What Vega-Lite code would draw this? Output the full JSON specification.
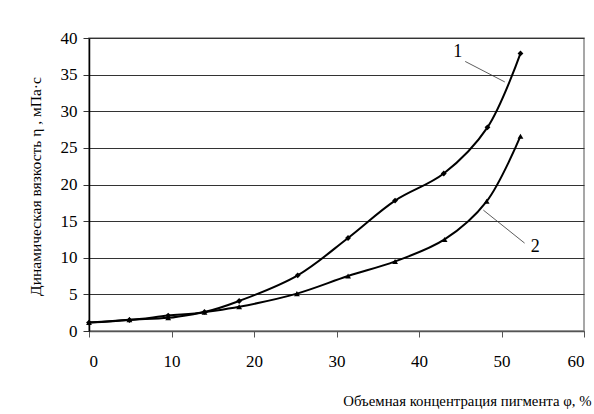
{
  "$schema": "https://vega.github.io/schema/vega-lite/v6.json",
  "width": 495,
  "height": 293,
  "autosize": {"type": "none"},
  "padding": {"left": 89, "top": 38, "right": 10, "bottom": 83},
  "background": "white",
  "config": {
    "view": {"stroke": "#8a8a8a", "strokeWidth": 1.5},
    "font": "Liberation Serif",
    "axis": {"labelFont": "Liberation Serif", "titleFont": "Liberation Serif", "labelColor": "#000", "titleColor": "#000", "titleFontWeight": "normal"}
  },
  "datasets": {
    "curves": [
      {"phi": 0, "eta": 1.15, "series": "1"},
      {"phi": 4.9, "eta": 1.5, "series": "1"},
      {"phi": 9.6, "eta": 2.1, "series": "1"},
      {"phi": 14.0, "eta": 2.6, "series": "1"},
      {"phi": 18.2, "eta": 4.1, "series": "1"},
      {"phi": 25.3, "eta": 7.6, "series": "1"},
      {"phi": 31.4, "eta": 12.7, "series": "1"},
      {"phi": 37.1, "eta": 17.8, "series": "1"},
      {"phi": 43.0, "eta": 21.5, "series": "1"},
      {"phi": 48.3, "eta": 27.8, "series": "1"},
      {"phi": 52.3, "eta": 37.9, "series": "1"},
      {"phi": 0, "eta": 1.15, "series": "2"},
      {"phi": 4.9, "eta": 1.55, "series": "2"},
      {"phi": 9.6, "eta": 1.8, "series": "2"},
      {"phi": 14.0, "eta": 2.55, "series": "2"},
      {"phi": 18.2, "eta": 3.3, "series": "2"},
      {"phi": 25.2, "eta": 5.1, "series": "2"},
      {"phi": 31.4, "eta": 7.5, "series": "2"},
      {"phi": 37.1, "eta": 9.5, "series": "2"},
      {"phi": 43.1, "eta": 12.5, "series": "2"},
      {"phi": 48.2, "eta": 17.7, "series": "2"},
      {"phi": 52.3, "eta": 26.6, "series": "2"}
    ],
    "leaders": [
      {"x1": 45.6, "y1": 36.8, "x2": 50.4, "y2": 34.0},
      {"x1": 47.8, "y1": 16.5, "x2": 52.8, "y2": 12.0}
    ],
    "labels": [
      {"x": 44.7, "y": 38.1, "label": "1"},
      {"x": 54.1, "y": 11.5, "label": "2"}
    ]
  },
  "encoding": {
    "x": {
      "field": "phi", "type": "quantitative",
      "scale": {"domain": [0, 60], "nice": false},
      "axis": {
        "values": [0, 10, 20, 30, 40, 50, 60],
        "grid": false,
        "tickSize": 6,
        "tickColor": "#555",
        "domainColor": "#555",
        "domainWidth": 1.5,
        "labelFontSize": 17,
        "labelPadding": 16,
        "title": "Объемная концентрация пигмента φ, %",
        "titleFontSize": 14.8,
        "titleAlign": "right",
        "titleAnchor": "end",
        "titleX": 502,
        "titleY": 74,
        "titleBaseline": "alphabetic"
      }
    },
    "y": {
      "field": "eta", "type": "quantitative",
      "scale": {"domain": [0, 40], "nice": false},
      "axis": {
        "values": [0, 5, 10, 15, 20, 25, 30, 35, 40],
        "grid": true,
        "gridColor": "#333",
        "gridWidth": 1,
        "tickSize": 6,
        "tickColor": "#333",
        "domainColor": "#000",
        "domainWidth": 1.5,
        "labelFontSize": 17,
        "labelPadding": 6,
        "title": "Динамическая вязкость η , мПа·с",
        "titleFontSize": 15.5,
        "titleX": -54,
        "titleY": 148,
        "titleAngle": -90,
        "titleAlign": "center",
        "titleBaseline": "middle"
      }
    }
  },
  "layer": [
    {
      "data": {"name": "curves"},
      "mark": {"type": "line", "interpolate": "catmull-rom", "color": "#000", "strokeWidth": 2},
      "encoding": {
        "detail": {"field": "series"}
      }
    },
    {
      "data": {"name": "curves"},
      "mark": {"type": "point", "filled": true, "color": "#000", "opacity": 1},
      "encoding": {
        "shape": {"field": "series", "type": "nominal", "scale": {"domain": ["1", "2"], "range": ["diamond", "triangle-up"]}, "legend": null},
        "size": {"value": 34}
      }
    },
    {
      "data": {"name": "leaders"},
      "mark": {"type": "rule", "color": "#333", "strokeWidth": 0.8},
      "encoding": {
        "x": {"field": "x1", "type": "quantitative"},
        "y": {"field": "y1", "type": "quantitative"},
        "x2": {"field": "x2"},
        "y2": {"field": "y2"}
      }
    },
    {
      "data": {"name": "labels"},
      "mark": {"type": "text", "font": "Liberation Serif", "fontSize": 18, "color": "#000", "align": "center", "baseline": "middle"},
      "encoding": {
        "x": {"field": "x", "type": "quantitative"},
        "y": {"field": "y", "type": "quantitative"},
        "text": {"field": "label"}
      }
    }
  ]
}
